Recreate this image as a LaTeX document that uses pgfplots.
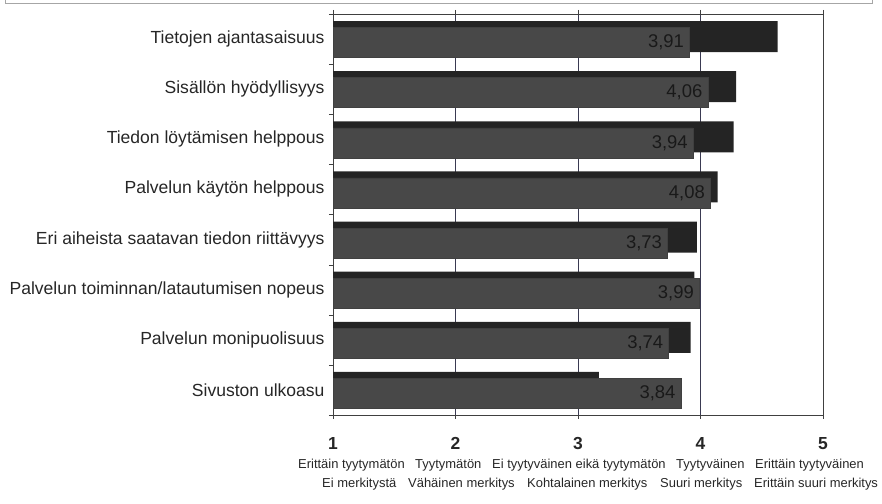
\documentclass[border=0pt]{standalone}
\usepackage{pgfplots}
\pgfplotsset{compat=1.18}
\usepackage{fontspec}
\setmainfont{Liberation Sans}
\definecolor{barblack}{HTML}{242424}
\definecolor{bargray}{HTML}{484848}
\definecolor{gridc}{HTML}{3A3A52}

\begin{document}
\begin{tikzpicture}
\path[use as bounding box] (0,0) rectangle (882bp,504bp);
\draw[gray!70] (5bp,504bp) -- (5bp,501bp) -- (872bp,501bp) -- (872bp,504bp);
\begin{axis}[
  at={(333bp,89bp)}, anchor=south west,
  scale only axis, width=490bp, height=401bp,
  xmin=1, xmax=5, ymin=-0.5, ymax=7.5,
  xbar,
  /pgf/number format/assume math mode=true,
  xtick={1,2,3,4,5},
  xtick pos=both, xticklabel pos=lower,
  xmajorgrids, grid style={gridc, line width=0.7pt},
  tick align=outside, major tick length=4bp,
  tick style={black!75},
  axis line style={black!75, line width=0.7pt},
  xticklabel style={font=\bfseries\fontsize{17.5}{20}\selectfont, text=black!85, yshift=-15bp},
  ytick={-0.5,0.5,...,7.5}, yticklabels={},
  ytick pos=left,
  extra y ticks={0,1,2,3,4,5,6,7},
  extra y tick labels={Sivuston ulkoasu, Palvelun monipuolisuus, Palvelun toiminnan/latautumisen nopeus, Eri aiheista saatavan tiedon riittävyys, Palvelun käytön helppous, Tiedon löytämisen helppous, Sisällön hyödyllisyys, Tietojen ajantasaisuus},
  extra y tick style={major tick length=0pt, yticklabel style={font=\fontsize{17.6}{20}\selectfont, text=black!85, xshift=-5bp}},
  clip=false,
]
% importance (black, behind)
\addplot[fill=barblack, draw=none, bar width=31bp, bar shift=2.5bp] coordinates {
  (4.63,7) (4.29,6) (4.27,5) (4.14,4) (3.97,3) (3.95,2) (3.92,1) (3.17,0)};
% satisfaction (gray, front)
\addplot[fill=bargray, draw=black!75, bar width=30bp, bar shift=-3.5bp,
  point meta=x, nodes near coords,
  nodes near coords style={anchor=east, xshift=-2bp, font=\fontsize{18.5}{20}\selectfont, text=black!90,
    /pgf/number format/.cd, fixed, fixed zerofill, precision=2, use comma, assume math mode=true}] coordinates {
  (3.91,7) (4.06,6) (3.94,5) (4.08,4) (3.73,3) (3.99,2) (3.74,1) (3.84,0)};
\end{axis}
\begin{scope}[every node/.style={anchor=base west, inner sep=0pt, font=\fontsize{13}{15}\selectfont, text=black!85}]
\node at (298bp,36bp) {Erittäin tyytymätön};
\node at (415bp,36bp) {Tyytymätön};
\node at (492bp,36bp) {Ei tyytyväinen eikä tyytymätön};
\node at (676bp,36bp) {Tyytyväinen};
\node at (755bp,36bp) {Erittäin tyytyväinen};
\node at (322bp,17bp) {Ei merkitystä};
\node at (408bp,17bp) {Vähäinen merkitys};
\node at (527bp,17bp) {Kohtalainen merkitys};
\node at (660bp,17bp) {Suuri merkitys};
\node at (754bp,17bp) {Erittäin suuri merkitys};
\end{scope}
\end{tikzpicture}
\end{document}
